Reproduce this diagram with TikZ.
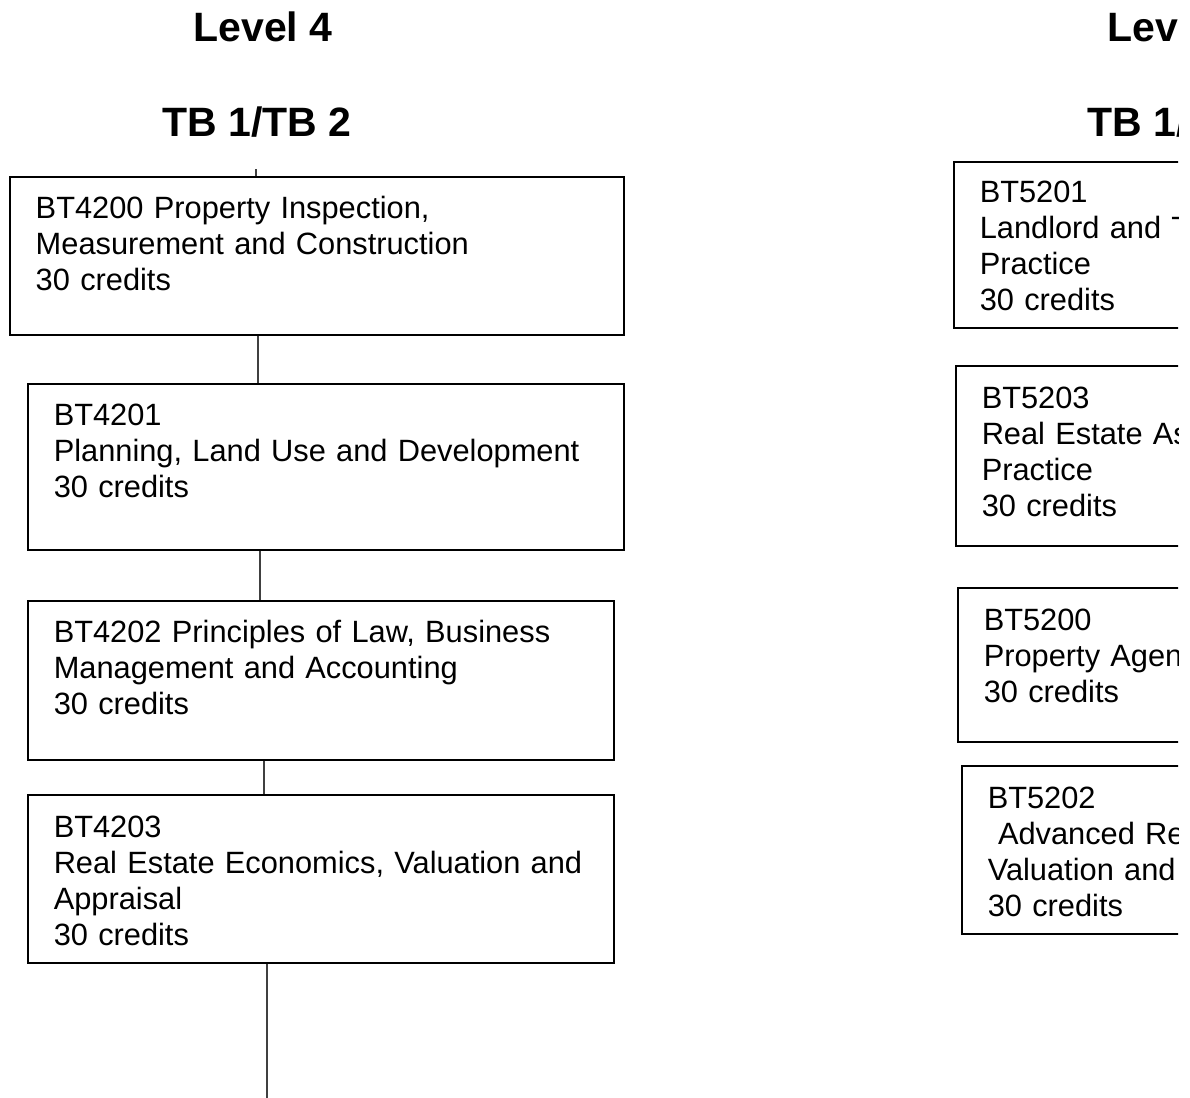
\documentclass[tikz,border=0pt]{standalone}
\usepackage{fontspec}
\setmainfont{Liberation Sans}
\usetikzlibrary{positioning}

\begin{document}
\begin{tikzpicture}[x=0.5pt,y=-0.5pt,
 mod/.style={draw,line width=0.75pt,anchor=north west,align=left,inner xsep=13pt,inner ysep=0pt,font=\fontsize{15.4pt}{18pt}\selectfont},
 hdr/.style={anchor=base west,inner sep=0pt,font=\fontsize{20.5pt}{24pt}\selectfont\bfseries},
 link/.style={draw=black!75,line width=0.9pt}]
 \useasboundingbox (0,0) rectangle (1190,1098);
 \begin{scope}
  \clip (0,0) rectangle (1178,1098);
  % headings
  \node[hdr] (lv4) at (193,41) {Level 4};
  \node[hdr] (tb4) at (162,136) {TB 1/TB 2};
  \node[hdr] (lv5) at (1107,41) {Lev};
  \node[hdr] (tb5) at (1087,136) {TB 1/};
  % level 4 modules
  \node[mod,text width=281pt,text height=21pt,text depth=58pt] (m4200) at (9,176)
   {BT4200 Property Inspection,\\Measurement and Construction\\30 credits};
  \node[mod,text width=272pt,text height=21pt,text depth=62pt] (m4201) at (27,383)
   {BT4201\\Planning, Land Use and Development\\30 credits};
  \node[mod,text width=267pt,text height=21pt,text depth=58.5pt] (m4202) at (27,600)
   {BT4202 Principles of Law, Business\\Management and Accounting\\30 credits};
  \node[mod,text width=267pt,text height=21.5pt,text depth=62.5pt] (m4203) at (27,794)
   {BT4203\\Real Estate Economics, Valuation and\\Appraisal\\30 credits};
  % level 5 modules
  \node[mod,text width=174pt,text height=20.5pt,text depth=62.5pt] (m5201) at (953,161)
   {BT5201\\Landlord and T\\Practice\\30 credits};
  \node[mod,text width=174pt,text height=21.5pt,text depth=68.5pt] (m5203) at (955,365)
   {BT5203\\Real Estate As\\Practice\\30 credits};
  \node[mod,text width=174pt,text height=21.5pt,text depth=55.5pt] (m5200) at (957,587)
   {BT5200\\Property Agen\\30 credits};
  \node[mod,text width=174pt,text height=21.5pt,text depth=62.5pt] (m5202) at (961,765)
   {BT5202\\~Advanced Re\\Valuation and\\30 credits};
  % links
  \coordinate (in4) at (256,169);
  \coordinate (out4) at (267,1098);
  \draw[link] (in4) -- (in4 |- m4200.north);
  \draw[link] (m4200.south -| 258,0) -- (m4201.north -| 258,0);
  \draw[link] (m4201.south -| 260,0) -- (m4202.north -| 260,0);
  \draw[link] (m4202.south -| 264,0) -- (m4203.north -| 264,0);
  \draw[link] (m4203.south -| out4) -- (out4);
 \end{scope}
\end{tikzpicture}
\end{document}
